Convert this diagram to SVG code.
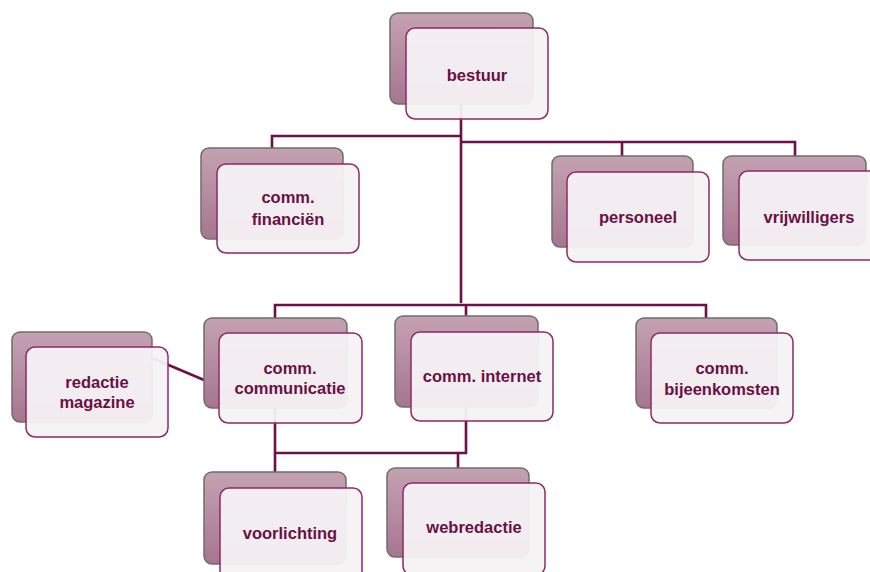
<svg xmlns="http://www.w3.org/2000/svg" width="870" height="572" viewBox="0 0 870 572">
<defs>
<linearGradient id="bg" x1="0" y1="0" x2="0" y2="1">
<stop offset="0" stop-color="#c4a2b2"/>
<stop offset="1" stop-color="#a6768f"/>
</linearGradient>
<style>
.back{fill:url(#bg);stroke:#6e6e6e;stroke-width:1.5}
.front{fill:#f6f2f4;fill-opacity:0.95;stroke:#8e2a68;stroke-width:1.5}
.lbl{font-family:"Liberation Sans",Arial,sans-serif;font-weight:bold;font-size:16.5px;fill:#6b1044;text-anchor:middle}
.conn{fill:none;stroke:#6b1048;stroke-width:2.6}
</style>
</defs>
<rect width="870" height="572" fill="#ffffff"/>
<g id="connectors">
<path class="conn" d="M461 104 V303"/>
<path class="conn" d="M461 136 H272 V149"/>
<path class="conn" d="M461 142 H795 V157 M622 142 V157"/>
<path class="conn" d="M275 318 V305 H706 V318 M462 305 H466 V316"/>
<path class="conn" d="M152 358 L204 380"/>
<path class="conn" d="M275 408 V472 M466 407 V453 H275 M458 453 V468"/>
</g>
<g id="bestuur">
<rect class="back" x="390" y="13" width="143" height="91" rx="8"/>
<rect class="front" x="406" y="28" width="142" height="91" rx="9"/>
<text class="lbl" x="477" y="81">bestuur</text>
</g>
<g id="comm-financien">
<rect class="back" x="201" y="148" width="142" height="91" rx="8"/>
<rect class="front" x="217" y="164" width="142" height="89" rx="9"/>
<text class="lbl" x="288" y="203">comm.</text>
<text class="lbl" x="288" y="225">financiën</text>
</g>
<g id="personeel">
<rect class="back" x="552" y="156" width="141" height="91" rx="8"/>
<rect class="front" x="567" y="172" width="142" height="90" rx="9"/>
<text class="lbl" x="638" y="223">personeel</text>
</g>
<g id="vrijwilligers">
<rect class="back" x="723" y="156" width="143" height="89" rx="8"/>
<rect class="front" x="739" y="171" width="142" height="89" rx="9"/>
<text class="lbl" x="809" y="223">vrijwilligers</text>
</g>
<g id="redactie-magazine">
<rect class="back" x="12" y="332" width="140" height="90" rx="8"/>
<rect class="front" x="26" y="347" width="142" height="90" rx="9"/>
<text class="lbl" x="97" y="388">redactie</text>
<text class="lbl" x="97" y="408">magazine</text>
</g>
<g id="comm-communicatie">
<rect class="back" x="204" y="318" width="143" height="90" rx="8"/>
<rect class="front" x="219" y="333" width="143" height="90" rx="9"/>
<text class="lbl" x="290" y="374">comm.</text>
<text class="lbl" x="290" y="394">communicatie</text>
</g>
<g id="comm-internet">
<rect class="back" x="395" y="316" width="143" height="91" rx="8"/>
<rect class="front" x="411" y="332" width="142" height="89" rx="9"/>
<text class="lbl" x="482" y="382">comm. internet</text>
</g>
<g id="comm-bijeenkomsten">
<rect class="back" x="636" y="318" width="141" height="90" rx="8"/>
<rect class="front" x="651" y="333" width="142" height="90" rx="9"/>
<text class="lbl" x="722" y="374">comm.</text>
<text class="lbl" x="722" y="395">bijeenkomsten</text>
</g>
<g id="voorlichting">
<rect class="back" x="204" y="472" width="142" height="92" rx="8"/>
<rect class="front" x="220" y="488" width="142" height="92" rx="9"/>
<text class="lbl" x="290" y="539">voorlichting</text>
</g>
<g id="webredactie">
<rect class="back" x="387" y="468" width="142" height="89" rx="8"/>
<rect class="front" x="403" y="483" width="142" height="92" rx="9"/>
<text class="lbl" x="474" y="533">webredactie</text>
</g>
</svg>
